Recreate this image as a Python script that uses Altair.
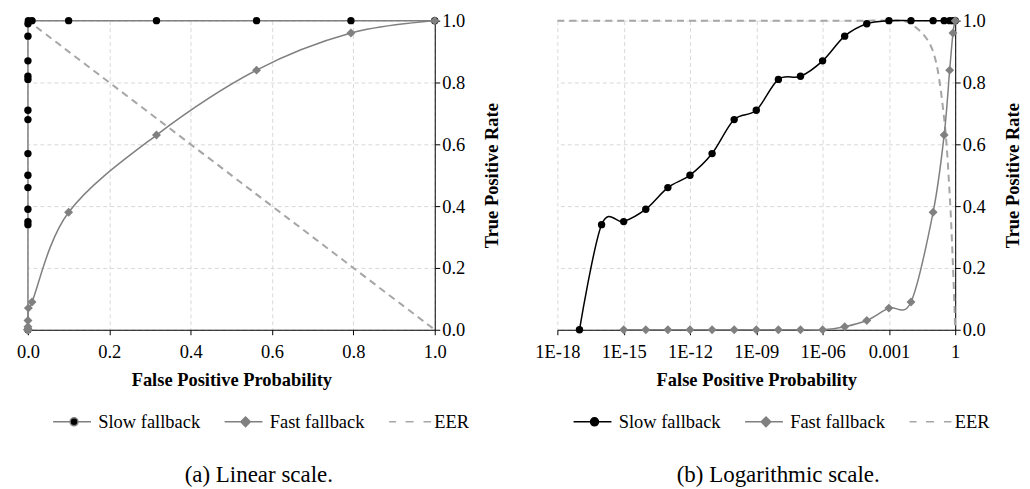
import json
import altair as alt
import pandas as pd

# ---------------- data ----------------
SERIES = ["Slow fallback", "Fast fallback", "EER"]

SLOW_FPP = [1e-17, 1e-16, 1e-15, 1e-14, 1e-13, 1e-12, 1e-11, 1e-10, 1e-9, 1e-8,
            1e-7, 1e-6, 1e-5, 1e-4, 1e-3, 1e-2, 0.1, 0.316, 0.562, 0.794, 1.0]
SLOW_TPR = [0.0, 0.34, 0.35, 0.39, 0.46, 0.50, 0.57, 0.68, 0.71, 0.81,
            0.82, 0.87, 0.95, 0.99, 1.0, 1.0, 1.0, 1.0, 1.0, 1.0, 1.0]

FAST_FPP = [1e-15, 1e-14, 1e-13, 1e-12, 1e-11, 1e-10, 1e-9, 1e-8, 1e-7, 1e-6,
            1e-5, 1e-4, 1e-3, 1e-2, 0.1, 0.316, 0.562, 0.794, 1.0]
FAST_TPR = [0.0, 0.0, 0.0, 0.0, 0.0, 0.0, 0.0, 0.0, 0.0, 0.0,
            0.01, 0.03, 0.07, 0.09, 0.38, 0.63, 0.84, 0.96, 1.0]

EER_FPP = [1e-18, 1e-17, 1e-16, 1e-15, 1e-14, 1e-13, 1e-12, 1e-11, 1e-10, 1e-9, 1e-8,
           1e-7, 1e-6, 1e-5, 1e-4, 1e-3, 1e-2, 0.1, 0.316, 0.562, 0.794, 1.0]
EER_TPR = [1.0, 1.0, 1.0, 1.0, 1.0, 1.0, 1.0, 1.0, 1.0, 1.0, 1.0,
           1.0, 1.0, 1.0, 1.0, 1.0, 0.99, 0.9, 0.684, 0.438, 0.206, 0.0]

LIN_X_TICKS = [0.0, 0.2, 0.4, 0.6, 0.8, 1.0]
LOG_X_TICKS = [1e-18, 1e-15, 1e-12, 1e-9, 1e-6, 1e-3, 1.0]
LOG_X_LABELS = ["1E-18", "1E-15", "1E-12", "1E-09", "1E-06", "0.001", "1"]
Y_TICKS = [0.0, 0.2, 0.4, 0.6, 0.8, 1.0]

rows = []
for name, xs, ys in [(SERIES[0], SLOW_FPP, SLOW_TPR),
                     (SERIES[1], FAST_FPP, FAST_TPR),
                     (SERIES[2], EER_FPP, EER_TPR)]:
    for x, y in zip(xs, ys):
        rows.append({"fpp": x, "tpr": y, "series": name})
df = pd.DataFrame(rows)

# ---------------- style ----------------
FONT = "Liberation Serif"
FS = 18.5
GRID = "#d9d9d9"
FAST_C = "#808080"
EER_C = "#a6a6a6"
W_LEFT, W_RIGHT, H = 408, 399, 310


def circle_path(cx, r):
    k = round(0.5523 * r, 3)
    return (f"M{cx - r},0C{cx - r},{-k} {cx - k},{-r} {cx},{-r}"
            f"C{cx + k},{-r} {cx + r},{-k} {cx + r},0"
            f"C{cx + r},{k} {cx + k},{r} {cx},{r}"
            f"C{cx - k},{r} {cx - r},{k} {cx - r},0Z")


LINE_SYM = "M-1,0L2.4,0M4,0L6.6,0"
SLOW_SYM = LINE_SYM + circle_path(3.2, 0.8)
FAST_SYM = LINE_SYM + "M3.2,-0.95L4.15,0L3.2,0.95L2.25,0Z"
EER_SYM = "M-1,0L0.4,0M2.3,0L3.9,0M5.9,0L7.4,0"


def panel(log, caption, slow_line_color, legend_x, width):
    if log:
        xscale = alt.Scale(type="log", domain=[1e-18, 1.0], nice=False)
        label_expr = f"{json.dumps(LOG_X_LABELS)}[round((log(datum.value)/LN10+18)/3)]"
        xaxis = alt.Axis(values=LOG_X_TICKS, labelExpr=label_expr)
    else:
        xscale = alt.Scale(domain=[0, 1], nice=False)
        xaxis = alt.Axis(values=LIN_X_TICKS, format=".1f")

    x_enc = alt.X("fpp:Q", scale=xscale, axis=xaxis, title="False Positive Probability")
    y_enc = alt.Y("tpr:Q", scale=alt.Scale(domain=[0, 1], nice=False),
                  axis=alt.Axis(values=Y_TICKS, format=".1f", orient="right",
                                labelPadding=2, titleAngle=270, titleBaseline="top",
                                titlePadding=18),
                  title="True Positive Rate")

    base = alt.Chart(df).encode(x=x_enc, y=y_enc)

    eer = base.transform_filter(alt.datum.series == SERIES[2]).mark_line(
        interpolate="cardinal", color=EER_C, strokeWidth=2, strokeDash=[7, 5])
    slow_line = base.transform_filter(alt.datum.series == SERIES[0]).mark_line(
        interpolate="cardinal", color=slow_line_color, strokeWidth=1.5)
    slow_pts = base.transform_filter(alt.datum.series == SERIES[0]).mark_point(
        shape="circle", filled=True, size=55, color="black", opacity=1)
    fast_line = base.transform_filter(alt.datum.series == SERIES[1]).mark_line(
        interpolate="cardinal", color=FAST_C, strokeWidth=1.5)
    fast_pts = base.transform_filter(alt.datum.series == SERIES[1]).mark_point(
        shape="diamond", filled=True, size=80, color=FAST_C, opacity=1)

    leg = alt.Legend(orient="none", legendX=legend_x, legendY=393, direction="horizontal",
                     title=None, symbolSize=100, symbolStrokeWidth=1.5, symbolOpacity=1,
                     labelOffset=31, columnPadding=20, padding=0,
                     labelFont=FONT, labelFontSize=FS, labelColor="black")
    legend_layer = base.mark_point(opacity=0).encode(
        shape=alt.Shape("series:N", scale=alt.Scale(
            domain=SERIES, range=[SLOW_SYM, FAST_SYM, EER_SYM]), legend=leg),
        fill=alt.Fill("series:N", scale=alt.Scale(
            domain=SERIES, range=["black", FAST_C, "transparent"]), legend=leg),
        stroke=alt.Stroke("series:N", scale=alt.Scale(
            domain=SERIES, range=[slow_line_color, FAST_C, EER_C]), legend=leg),
    )

    return alt.layer(eer, slow_line, slow_pts, fast_line, fast_pts, legend_layer).properties(
        width=width, height=H,
        title=alt.TitleParams(caption, orient="bottom", anchor="middle", frame="bounds",
                              font=FONT, fontSize=23, fontWeight="normal",
                              color="black", offset=33),
    )


left = panel(False, "(a) Linear scale.", "#808080", 21, W_LEFT)
right = panel(True, "(b) Logarithmic scale.", "black", 12, W_RIGHT)

chart = alt.hconcat(left, right, spacing=33).resolve_scale(
    x="independent", y="independent", fill="independent",
    stroke="independent", shape="independent",
).resolve_legend(
    fill="independent", stroke="independent", shape="independent",
).configure(
    padding={"left": 8, "top": 3, "right": 0, "bottom": 0},
).configure_view(stroke=None).configure_axis(
    labelFont=FONT, labelFontSize=FS, labelColor="black",
    titleFont=FONT, titleFontSize=FS, titleFontWeight="bold", titleColor="black",
    domainColor="black", domainWidth=1, tickColor="black", tickSize=5, tickWidth=1,
    labelPadding=8, titlePadding=9, labelFlush=False, labelOverlap=False,
    gridColor=GRID, gridDash=[4, 3], gridWidth=1,
)

chart.save("out.html", embed_options={"renderer": "svg", "actions": False})
